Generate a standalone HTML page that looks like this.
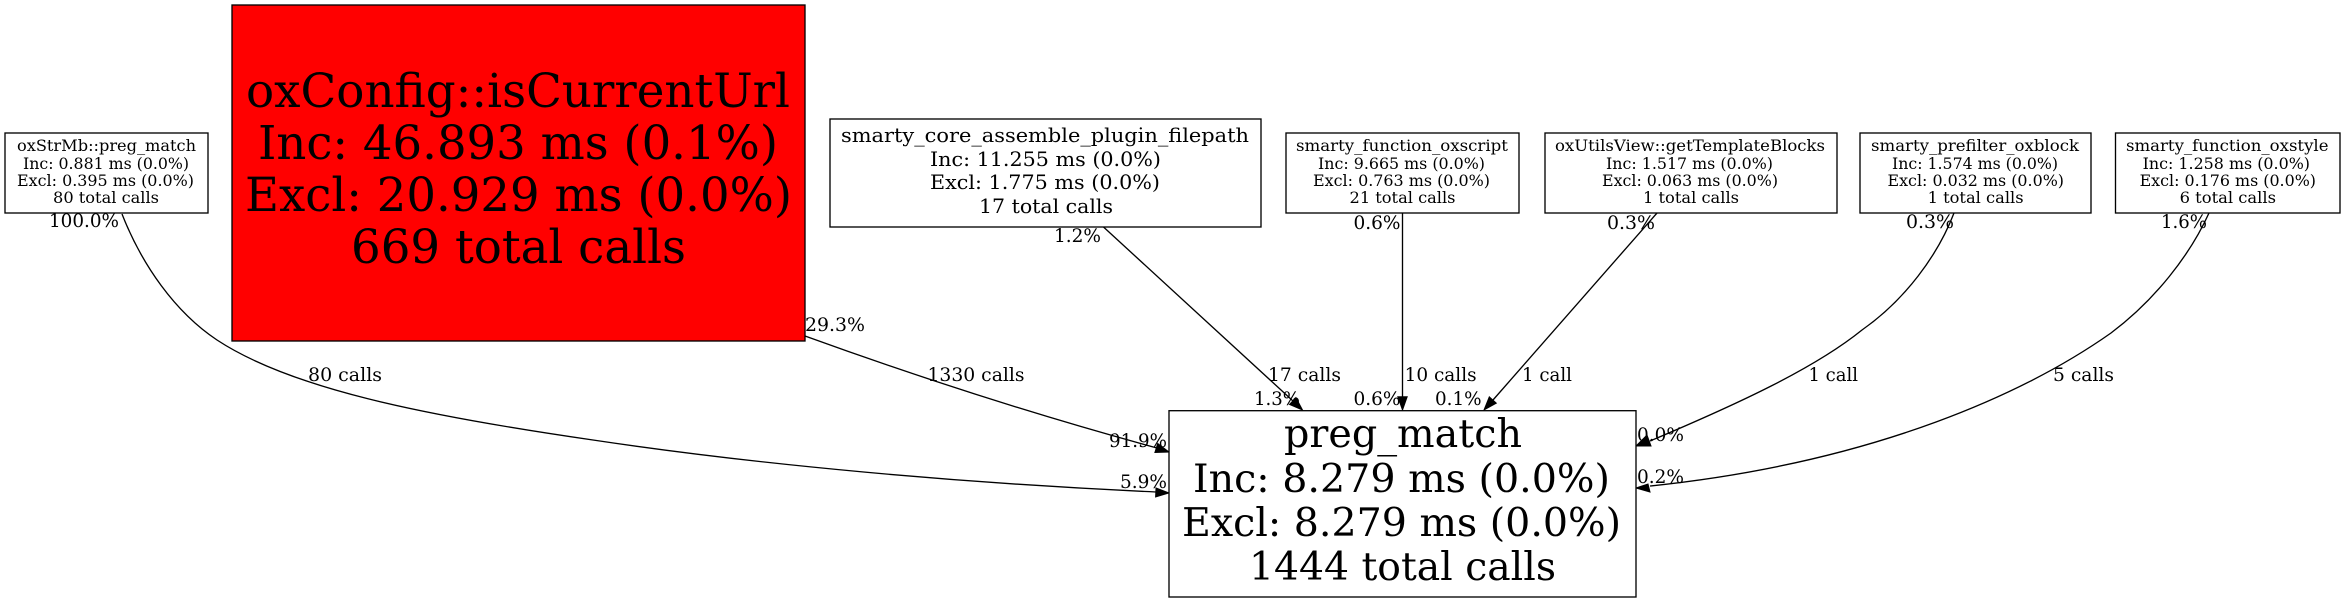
<!DOCTYPE html>
<html>
<head>
<meta charset="utf-8">
<style>
html,body{margin:0;padding:0;background:#fff;width:2345px;height:603px;overflow:hidden}
svg{display:block}
text{font-family:"DejaVu Serif","Liberation Serif",serif;fill:#000}
.n{font-size:15.4px}
.m{font-size:19.6px}
.r{font-size:47px}
.p{font-size:39.6px}
.e{font-size:18.67px}
rect{stroke:#000;stroke-width:1.33}
path{fill:none;stroke:#000;stroke-width:1.33}
polygon{fill:#000;stroke:#000;stroke-width:1}
</style>
</head>
<body>
<svg width="2345" height="603" viewBox="0 0 2345 603" xmlns="http://www.w3.org/2000/svg">
<rect x="0" y="0" width="2345" height="603" style="fill:#fff;stroke:none"/>

<!-- edges -->
<path d="M122,214 C142,265 175,312 217,340 C290,388 420,415 593,440 C760,465 960,483 1156,492"/>
<polygon points="1169,493 1156,488 1155.6,497"/>
<path d="M805,336 C885,365 1010,408 1157,448"/>
<polygon points="1169,452 1157.7,443.5 1154.9,452.5"/>
<path d="M1103.5,227 L1293,401"/>
<polygon points="1302.5,410 1295.9,397.6 1289.5,404.4"/>
<path d="M1402.5,213 L1402.5,397"/>
<polygon points="1402.5,410 1397.8,396.7 1407.2,396.7"/>
<path d="M1657,213 L1493,400"/>
<polygon points="1484,410 1496.3,403.1 1489.3,396.9"/>
<path d="M1954,213 C1938,255 1905,300 1862,330 C1815,368 1740,403 1650,441"/>
<polygon points="1636,446 1651,446 1647,435"/>
<path d="M2209,213 C2190,255 2155,300 2111,333 C2030,390 1880,462 1650,486"/>
<polygon points="1636,488 1650,492 1648,484"/>

<!-- oxStrMb::preg_match -->
<rect x="5" y="133" width="203" height="80" style="fill:#fff"/>
<text class="n" x="17" y="151" textLength="179" lengthAdjust="spacingAndGlyphs">oxStrMb::preg_match</text>
<text class="n" x="23" y="169" textLength="166" lengthAdjust="spacingAndGlyphs">Inc: 0.881 ms (0.0%)</text>
<text class="n" x="17" y="186" textLength="177" lengthAdjust="spacingAndGlyphs">Excl: 0.395 ms (0.0%)</text>
<text class="n" x="53" y="203" textLength="106" lengthAdjust="spacingAndGlyphs">80 total calls</text>

<!-- oxConfig::isCurrentUrl -->
<rect x="232" y="5" width="573" height="336" style="fill:#f00"/>
<text class="r" x="246" y="107" textLength="544" lengthAdjust="spacingAndGlyphs">oxConfig::isCurrentUrl</text>
<text class="r" x="258" y="159" textLength="520" lengthAdjust="spacingAndGlyphs">Inc: 46.893 ms (0.1%)</text>
<text class="r" x="245" y="211" textLength="547" lengthAdjust="spacingAndGlyphs">Excl: 20.929 ms (0.0%)</text>
<text class="r" x="351" y="263" textLength="335" lengthAdjust="spacingAndGlyphs">669 total calls</text>

<!-- smarty_core_assemble_plugin_filepath -->
<rect x="830" y="119" width="431" height="108" style="fill:#fff"/>
<text class="m" x="841" y="142" textLength="408" lengthAdjust="spacingAndGlyphs">smarty_core_assemble_plugin_filepath</text>
<text class="m" x="930" y="166" textLength="231" lengthAdjust="spacingAndGlyphs">Inc: 11.255 ms (0.0%)</text>
<text class="m" x="930" y="189" textLength="230" lengthAdjust="spacingAndGlyphs">Excl: 1.775 ms (0.0%)</text>
<text class="m" x="979" y="213" textLength="134" lengthAdjust="spacingAndGlyphs">17 total calls</text>

<!-- smarty_function_oxscript -->
<rect x="1286" y="133" width="233" height="80" style="fill:#fff"/>
<text class="n" x="1296" y="151" textLength="212" lengthAdjust="spacingAndGlyphs">smarty_function_oxscript</text>
<text class="n" x="1318" y="169" textLength="167" lengthAdjust="spacingAndGlyphs">Inc: 9.665 ms (0.0%)</text>
<text class="n" x="1313" y="186" textLength="177" lengthAdjust="spacingAndGlyphs">Excl: 0.763 ms (0.0%)</text>
<text class="n" x="1349.5" y="203" textLength="106" lengthAdjust="spacingAndGlyphs">21 total calls</text>

<!-- oxUtilsView::getTemplateBlocks -->
<rect x="1545" y="133" width="292" height="80" style="fill:#fff"/>
<text class="n" x="1555" y="151" textLength="270" lengthAdjust="spacingAndGlyphs">oxUtilsView::getTemplateBlocks</text>
<text class="n" x="1606" y="169" textLength="167" lengthAdjust="spacingAndGlyphs">Inc: 1.517 ms (0.0%)</text>
<text class="n" x="1602" y="186" textLength="176" lengthAdjust="spacingAndGlyphs">Excl: 0.063 ms (0.0%)</text>
<text class="n" x="1643" y="203" textLength="96" lengthAdjust="spacingAndGlyphs">1 total calls</text>

<!-- smarty_prefilter_oxblock -->
<rect x="1860" y="133" width="231" height="80" style="fill:#fff"/>
<text class="n" x="1871" y="151" textLength="208" lengthAdjust="spacingAndGlyphs">smarty_prefilter_oxblock</text>
<text class="n" x="1892" y="169" textLength="166" lengthAdjust="spacingAndGlyphs">Inc: 1.574 ms (0.0%)</text>
<text class="n" x="1887.5" y="186" textLength="176.5" lengthAdjust="spacingAndGlyphs">Excl: 0.032 ms (0.0%)</text>
<text class="n" x="1927.6" y="203" textLength="96" lengthAdjust="spacingAndGlyphs">1 total calls</text>

<!-- smarty_function_oxstyle -->
<rect x="2115.5" y="133" width="224.5" height="80" style="fill:#fff"/>
<text class="n" x="2126" y="151" textLength="202.5" lengthAdjust="spacingAndGlyphs">smarty_function_oxstyle</text>
<text class="n" x="2142.6" y="169" textLength="167.4" lengthAdjust="spacingAndGlyphs">Inc: 1.258 ms (0.0%)</text>
<text class="n" x="2139.6" y="186" textLength="176.4" lengthAdjust="spacingAndGlyphs">Excl: 0.176 ms (0.0%)</text>
<text class="n" x="2179.6" y="203" textLength="96.4" lengthAdjust="spacingAndGlyphs">6 total calls</text>

<!-- preg_match -->
<rect x="1169" y="410.7" width="467" height="186.3" style="fill:#fff"/>
<text class="p" x="1284" y="447" textLength="238" lengthAdjust="spacingAndGlyphs">preg_match</text>
<text class="p" x="1193" y="492" textLength="417" lengthAdjust="spacingAndGlyphs">Inc: 8.279 ms (0.0%)</text>
<text class="p" x="1182" y="536" textLength="439" lengthAdjust="spacingAndGlyphs">Excl: 8.279 ms (0.0%)</text>
<text class="p" x="1249" y="580" textLength="307" lengthAdjust="spacingAndGlyphs">1444 total calls</text>

<!-- edge labels -->
<text class="e" x="49" y="227" textLength="70" lengthAdjust="spacingAndGlyphs">100.0%</text>
<text class="e" x="805" y="331" textLength="60" lengthAdjust="spacingAndGlyphs">29.3%</text>
<text class="e" x="308" y="381" textLength="74" lengthAdjust="spacingAndGlyphs">80 calls</text>
<text class="e" x="927.5" y="381" textLength="97" lengthAdjust="spacingAndGlyphs">1330 calls</text>
<text class="e" x="1054" y="242" textLength="47" lengthAdjust="spacingAndGlyphs">1.2%</text>
<text class="e" x="1353.5" y="229" textLength="47" lengthAdjust="spacingAndGlyphs">0.6%</text>
<text class="e" x="1607" y="229" textLength="48" lengthAdjust="spacingAndGlyphs">0.3%</text>
<text class="e" x="1906" y="228" textLength="48" lengthAdjust="spacingAndGlyphs">0.3%</text>
<text class="e" x="2161" y="228" textLength="46" lengthAdjust="spacingAndGlyphs">1.6%</text>
<text class="e" x="1268" y="381" textLength="73" lengthAdjust="spacingAndGlyphs">17 calls</text>
<text class="e" x="1404.6" y="381" textLength="72" lengthAdjust="spacingAndGlyphs">10 calls</text>
<text class="e" x="1522" y="381" textLength="50" lengthAdjust="spacingAndGlyphs">1 call</text>
<text class="e" x="1808.5" y="381" textLength="49.5" lengthAdjust="spacingAndGlyphs">1 call</text>
<text class="e" x="2053" y="381" textLength="61" lengthAdjust="spacingAndGlyphs">5 calls</text>
<text class="e" x="1254" y="405" textLength="46" lengthAdjust="spacingAndGlyphs">1.3%</text>
<text class="e" x="1353.5" y="405" textLength="47" lengthAdjust="spacingAndGlyphs">0.6%</text>
<text class="e" x="1435" y="405" textLength="46.6" lengthAdjust="spacingAndGlyphs">0.1%</text>
<text class="e" x="1109" y="447" textLength="58" lengthAdjust="spacingAndGlyphs">91.9%</text>
<text class="e" x="1120" y="488" textLength="47" lengthAdjust="spacingAndGlyphs">5.9%</text>
<text class="e" x="1637" y="441" textLength="47" lengthAdjust="spacingAndGlyphs">0.0%</text>
<text class="e" x="1637" y="483" textLength="47" lengthAdjust="spacingAndGlyphs">0.2%</text>
</svg>
</body>
</html>
